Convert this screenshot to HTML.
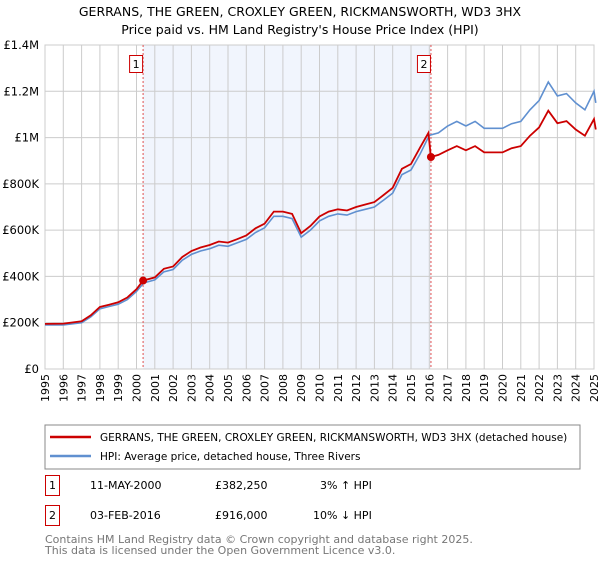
<!DOCTYPE html>
<html><head><meta charset="utf-8"><style>
body{margin:0;background:#fff;font-family:"Liberation Sans","DejaVu Sans",sans-serif;}
svg text{font-family:"DejaVu Sans","Liberation Sans",sans-serif;}
</style></head><body>
<svg id="c" width="600" height="560" xmlns="http://www.w3.org/2000/svg">
<text x="300" y="16" text-anchor="middle" font-size="12.5" fill="#000">GERRANS, THE GREEN, CROXLEY GREEN, RICKMANSWORTH, WD3 3HX</text>
<text x="300" y="34" text-anchor="middle" font-size="12.5" fill="#000">Price paid vs. HM Land Registry's House Price Index (HPI)</text>
<g id="plot"></g>
<rect x="45" y="425" width="535" height="44" fill="#fff" stroke="#888"/>
<line x1="50" y1="437" x2="91" y2="437" stroke="#cc0000" stroke-width="2.5"/>
<text x="100" y="441" font-size="10.5">GERRANS, THE GREEN, CROXLEY GREEN, RICKMANSWORTH, WD3 3HX (detached house)</text>
<line x1="50" y1="456" x2="91" y2="456" stroke="#6090d0" stroke-width="2.5"/>
<text x="100" y="460" font-size="10.5">HPI: Average price, detached house, Three Rivers</text>
<g>
<rect x="45.5" y="475.5" width="14" height="20" fill="#fff" stroke="#cc0000"/>
<text x="52.5" y="489" text-anchor="middle" font-size="11">1</text>
<text x="90" y="489" font-size="11">11-MAY-2000</text>
<text x="215" y="489" font-size="11">£382,250</text>
<text x="320" y="489" font-size="11">3% ↑ HPI</text></g>
<g>
<rect x="45.5" y="505.5" width="14" height="20" fill="#fff" stroke="#cc0000"/>
<text x="52.5" y="519" text-anchor="middle" font-size="11">2</text>
<text x="90" y="519" font-size="11">03-FEB-2016</text>
<text x="215" y="519" font-size="11">£916,000</text>
<text x="313" y="519" font-size="11">10% ↓ HPI</text></g>
<text x="45" y="543" font-size="11" fill="#777">Contains HM Land Registry data © Crown copyright and database right 2025.</text>
<text x="45" y="554" font-size="11" fill="#777">This data is licensed under the Open Government Licence v3.0.</text>
</svg>
<script>
const hpiYears=[1995,1996,1997,1997.5,1998,1998.5,1999,1999.5,2000,2000.4,2001,2001.5,2002,2002.5,2003,2003.5,2004,2004.5,2005,2005.5,2006,2006.5,2007,2007.5,2008,2008.5,2009,2009.5,2010,2010.5,2011,2011.5,2012,2012.5,2013,2013.5,2014,2014.5,2015,2015.5,2016,2016.5,2017,2017.5,2018,2018.5,2019,2019.5,2020,2020.5,2021,2021.5,2022,2022.5,2023,2023.5,2024,2024.5,2025,2025.1];
const hpiValues=[190,190,200,225,260,270,280,300,335,372,385,420,430,470,495,510,520,535,530,545,560,590,610,660,660,650,570,600,640,660,670,665,680,690,700,730,760,840,860,930,1010,1020,1050,1070,1050,1070,1040,1040,1040,1060,1070,1120,1160,1240,1180,1190,1150,1120,1200,1150];
const propYears=[1995,1996,1997,1997.5,1998,1998.5,1999,1999.5,2000,2000.36,2001,2001.5,2002,2002.5,2003,2003.5,2004,2004.5,2005,2005.5,2006,2006.5,2007,2007.5,2008,2008.5,2009,2009.5,2010,2010.5,2011,2011.5,2012,2012.5,2013,2013.5,2014,2014.5,2015,2015.5,2015.95,2016.09,2016.5,2017,2017.5,2018,2018.5,2019,2019.5,2020,2020.5,2021,2021.5,2022,2022.5,2023,2023.5,2024,2024.5,2025,2025.1];
const propValues=[195,196,206,232,268,278,288,309,345,382,396,433,443,484,510,525,536,551,546,561,577,608,628,680,680,670,587,618,659,680,690,685,700,711,721,752,783,865,886,958,1020,916,925,945,963,945,963,936,936,936,954,963,1008,1044,1116,1062,1071,1035,1008,1080,1035];
const saleYears=[2000.36,2016.09];
const saleValues=[382.25,916];
const saleLabels=["1","2"];
const yTicks=[0,200,400,600,800,1000,1200,1400];
const yTickLabels=["£0","£200K","£400K","£600K","£800K","£1M","£1.2M","£1.4M"];
const xTicks=[1995,1996,1997,1998,1999,2000,2001,2002,2003,2004,2005,2006,2007,2008,2009,2010,2011,2012,2013,2014,2015,2016,2017,2018,2019,2020,2021,2022,2023,2024,2025];

const L=45,R=594,T=45,B=369;
const xs=v=>L+(v-1995)/30*(R-L);
const ys=v=>B-v/1400*(B-T);
const g=document.getElementById('plot');
const NS='http://www.w3.org/2000/svg';
function mk(tag,attrs,parent){const e=document.createElementNS(NS,tag);for(const k in attrs)e.setAttribute(k,attrs[k]);(parent||g).appendChild(e);return e;}
const shade=mk('rect',{x:xs(saleYears[0]),y:T,width:xs(saleYears[1])-xs(saleYears[0]),height:B-T,fill:'#eef3fc',opacity:0.8});


xTicks.forEach(t=>{
 const l=mk('line',{x1:xs(t),x2:xs(t),y1:T,y2:B,stroke:'#ccc','stroke-width':1});
 
 
 const tx=mk('text',{x:0,y:0,'font-size':11,'text-anchor':'end',transform:`translate(${xs(t)+4},${B+5}) rotate(-90)`});
 tx.textContent=t;
 
 
});
yTicks.forEach((t,i)=>{
 const l=mk('line',{x1:L,x2:R,y1:ys(t),y2:ys(t),stroke:'#ccc','stroke-width':1});
 
 
 const tx=mk('text',{x:L-6,y:ys(t)+4,'font-size':11.5,'text-anchor':'end'});
 tx.textContent=yTickLabels[i];
 
 
});
const ax=mk('rect',{x:L,y:T,width:R-L,height:B-T,fill:'none',stroke:'#ccc'});


saleYears.forEach((y,i)=>{
 const l=mk('line',{x1:xs(y),x2:xs(y),y1:T,y2:B,stroke:'#e05050','stroke-width':1,'stroke-dasharray':'2,2'});
 
 
});
function path(xa,va){return xa.map((x,i)=>(i?'L':'M')+xs(x).toFixed(1)+','+ys(va[i]).toFixed(1)).join('');}
const hp=mk('path',{d:path(hpiYears,hpiValues),fill:'none',stroke:'#6090d0','stroke-width':1.6});


const pp=mk('path',{d:path(propYears,propValues),fill:'none',stroke:'#cc0000','stroke-width':1.8});


saleYears.forEach((y,i)=>{
 const c=mk('circle',{cx:xs(y),cy:ys(saleValues[i]),r:4,fill:'#cc0000'});
 
 
 const b=mk('rect',{x:xs(y)-13.5,y:55.5,width:13,height:17,fill:'#fff',stroke:'#cc0000'});
 
 
 const t=mk('text',{x:xs(y)-7,y:68,'font-size':11,'text-anchor':'middle'});
 t.textContent=saleLabels[i];
 
 
});
</script>
</body></html>
